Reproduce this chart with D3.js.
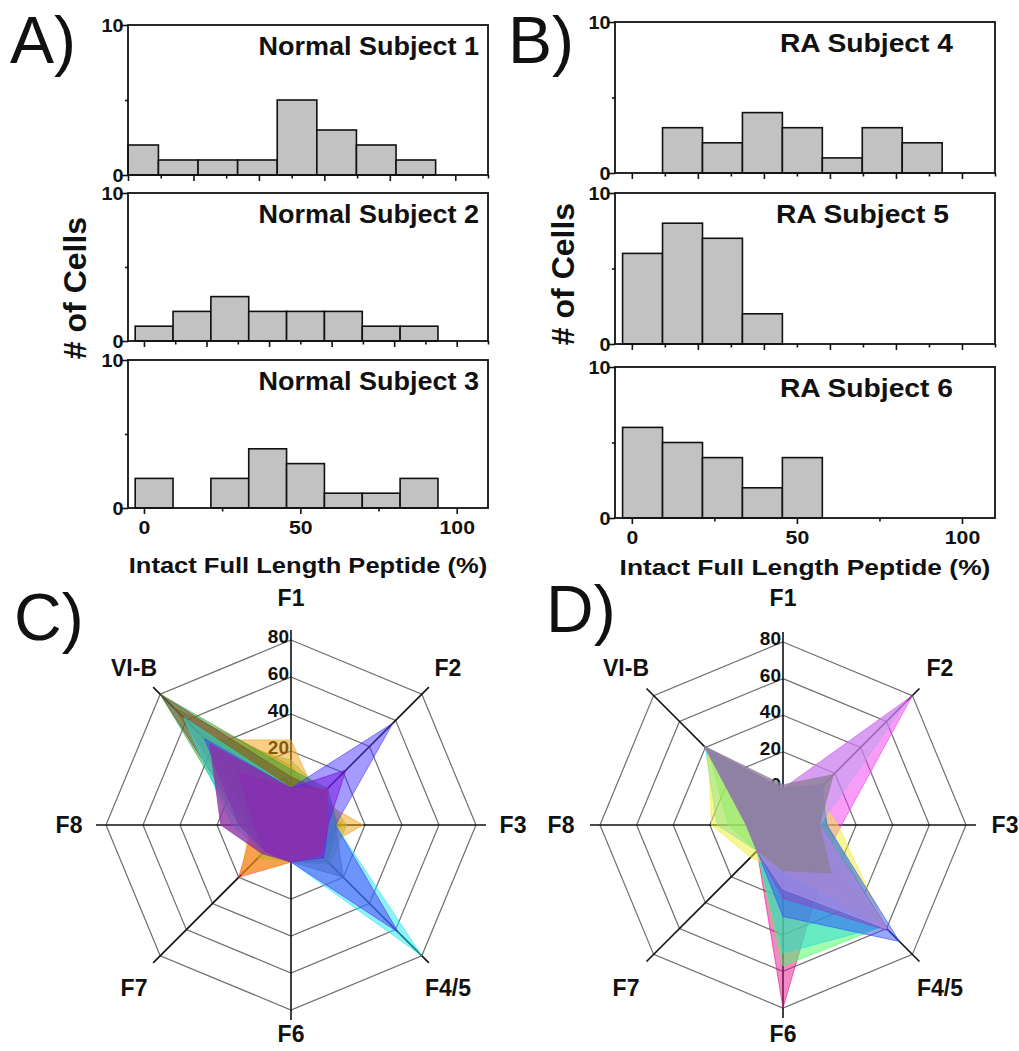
<!DOCTYPE html>
<html>
<head>
<meta charset="utf-8">
<script src="https://cdn.jsdelivr.net/npm/d3@7"></script>
<style>
  body { margin: 0; background: #fff; }
  text { font-family: "Liberation Sans", Arial, sans-serif; fill: #111; }
</style>
</head>
<body>
<div id="chart"></div>
<script>
// ---- histogram data ----
const binEdges = [-2.8, 9.3, 21.4, 33.5, 45.6, 57.7, 69.8, 81.9, 94.0];
const normal1 = [2, 1, 1, 1, 5, 3, 2, 1];
const normal2 = [1, 2, 3, 2, 2, 2, 1, 1];
const normal3 = [2, 0, 2, 4, 3, 1, 1, 2];
const ra4 = [0, 3, 2, 4, 3, 1, 3, 2];
const ra5 = [6, 8, 7, 2, 0, 0, 0, 0];
const ra6 = [6, 5, 4, 2, 4, 0, 0, 0];
const yTicks = [0, 5, 10];
const yLabels = [0, 10];
const upperTicks = [0, 10, 20, 30, 40, 50, 60, 70, 80, 90, 100, 110];
const bottomTicks = [0, 25, 50, 75, 100];
const bottomLabels = [0, 50, 100];

// ---- radar data (order of spokes below) ----
const spokes = ["F1", "F2", "F3", "F4/5", "F6", "F7", "F8", "VI-B"];
const ringTicks = [0, 20, 40, 60, 80];
const ringLabelsC = [0, 20, 40, 60, 80];
const ringLabelsD = [0, 20, 40, 60, 80];

const cRed    = [12, 0, 8, 0, 0, 20, 0, 70];
const cOrange = [26, 0, 19, 0, 0, 18, 2, 45];
const cOlive  = [15, 5, 10, 10, 0, 5, 0, 50];
const cGreen  = [10, 8, 5, 8, 0, 0, 8, 80];
const cBrown  = [6, 5, 4, 20, 0, 0, 5, 80];
const cCyan   = [0, 5, 4, 80, 0, 0, 12, 62];
const cBlue   = [0, 58, 4, 62, 0, 0, 8, 46];
const cViolet = [0, 22, 0, 5, 0, 0, 0, 20];
const cPurple = [0, 8, 0, 3, 0, 2, 18, 42];
const cColors = ["#ff4a20", "#f2a012", "#b5b52a", "#2faa3a", "#6e4a30", "#1ee8f0", "#4a36ff", "#7a10e0", "#8e2ea4"];

const dMagenta  = [0, 80, 12, 10, 0, 0, 0, 30];
const dPink     = [0, 5, 0, 12, 80, 0, 0, 30];
const dGreen    = [0, 8, 4, 58, 57, 0, 10, 38];
const dCyan     = [0, 10, 4, 58, 50, 0, 16, 40];
const dYellow   = [0, 5, 10, 60, 5, 5, 19, 38];
const dBlue     = [0, 10, 4, 70, 30, 0, 0, 36];
const dPurple   = [0, 12, 0, 62, 20, 0, 0, 40];
const dLavender = [0, 76, 0, 60, 15, 0, 0, 40];
const dGray     = [2, 19, 0, 17, 5, 0, 0, 41];
const dColors = ["#f03cf0", "#e0158a", "#40ff60", "#30d8d8", "#eeee30", "#3050ff", "#9040c8", "#b8a0ee", "#8c8096"];

const W = 1019, H = 1051;
const svg = d3.select("#chart").append("svg").attr("width", W).attr("height", H);

function label(g, txt, x, y, size, opt = {}) {
  return g.append("text")
    .attr("transform", `translate(${x},${y}) scale(${opt.sx || 1},1)`)
    .attr("text-anchor", opt.anchor || "middle")
    .attr("font-size", size)
    .attr("font-weight", opt.weight || "bold")
    .text(txt);
}

function histogram(p) {
  const x = d3.scaleLinear().domain(p.domain).range([p.x0, p.x1]);
  const y = d3.scaleLinear().domain([0, 10]).range([p.y1, p.y0]);
  const g = svg.append("g");

  const bins = p.counts
    .map((c, i) => ({ c, a: Math.max(binEdges[i], p.domain[0]), b: binEdges[i + 1] }))
    .filter(d => d.c > 0);

  g.selectAll("rect.bar").data(bins).join("rect")
    .attr("class", "bar")
    .attr("x", d => x(d.a))
    .attr("width", d => x(d.b) - x(d.a))
    .attr("y", d => y(d.c))
    .attr("height", d => y(0) - y(d.c))
    .attr("fill", "#c2c2c2")
    .attr("stroke", "#111")
    .attr("stroke-width", 1.6);

  g.append("rect")
    .attr("x", p.x0).attr("y", p.y0)
    .attr("width", p.x1 - p.x0).attr("height", p.y1 - p.y0)
    .attr("fill", "none").attr("stroke", "#111").attr("stroke-width", 1.8);

  // y axis
  const ya = g.append("g").attr("transform", `translate(${p.x0},0)`)
    .call(d3.axisLeft(y).tickValues(yTicks).tickSize(6).tickSizeOuter(0)
      .tickFormat(d => yLabels.includes(d) ? d : ""));
  ya.select(".domain").remove();
  ya.selectAll(".tick line").attr("stroke", "#111").attr("stroke-width", 1.6)
    .attr("x2", d => yLabels.includes(d) ? -6 : -3);
  ya.selectAll(".tick text")
    .attr("font-size", 18).attr("font-weight", "bold")
    .attr("font-family", '"Liberation Sans", Arial, sans-serif')
    .attr("x", -4).attr("dy", "0.36em")
    .attr("transform", "scale(1.1,1)");

  // x axis
  const tv = p.bottom ? bottomTicks : upperTicks.filter(t => t >= p.domain[0] && t <= p.domain[1]);
  const major = p.bottom ? bottomLabels : upperTicks.filter(t => t % 20 === 0);
  const xa = g.append("g").attr("transform", `translate(0,${p.y1})`)
    .call(d3.axisBottom(x).tickValues(tv).tickSize(6).tickSizeOuter(0)
      .tickFormat(d => p.bottom && bottomLabels.includes(d) ? d : ""));
  xa.select(".domain").remove();
  xa.selectAll(".tick line").attr("stroke", "#111").attr("stroke-width", 1.6)
    .attr("y2", d => major.includes(d) ? 6 : 3.5);
  xa.selectAll(".tick text")
    .attr("font-size", 18).attr("font-weight", "bold")
    .attr("font-family", '"Liberation Sans", Arial, sans-serif')
    .attr("y", 13)
    .attr("transform", "scale(1.18,1)");

  label(g, p.title, p.titleX, p.y0 + 30, 25, { anchor: "end", sx: p.titleSx });
  return g;
}

// ---- panels A and B ----
const A = { x0: 128, x1: 488 };
const B = { x0: 615, x1: 995 };
histogram({ ...A, y0: 25, y1: 175, domain: [0, 110], counts: normal1,
  title: "Normal Subject 1", titleX: 479, titleSx: 1.08 });
histogram({ ...A, y0: 193, y1: 341, domain: [-5.1, 110], counts: normal2,
  title: "Normal Subject 2", titleX: 479, titleSx: 1.08 });
histogram({ ...A, y0: 360, y1: 508, domain: [-5.1, 110], counts: normal3, bottom: true,
  title: "Normal Subject 3", titleX: 479, titleSx: 1.08 });

histogram({ ...B, y0: 22, y1: 173, domain: [-5.1, 110], counts: ra4,
  title: "RA Subject 4", titleX: 953, titleSx: 1.13 });
histogram({ ...B, y0: 193, y1: 344, domain: [-5.1, 110], counts: ra5,
  title: "RA Subject 5", titleX: 949, titleSx: 1.13 });
histogram({ ...B, y0: 367, y1: 518, domain: [-5.1, 110], counts: ra6, bottom: true,
  title: "RA Subject 6", titleX: 953, titleSx: 1.13 });

const tg = svg.append("g");
label(tg, "Intact Full Length Peptide (%)", 308, 573, 22, { sx: 1.16 });
label(tg, "Intact Full Length Peptide (%)", 805, 575, 22, { sx: 1.2 });

tg.append("text").attr("transform", "translate(86,288) rotate(-90)")
  .attr("text-anchor", "middle").attr("font-size", 32).attr("font-weight", "bold").text("# of Cells");
tg.append("text").attr("transform", "translate(574,274) rotate(-90)")
  .attr("text-anchor", "middle").attr("font-size", 32).attr("font-weight", "bold").text("# of Cells");

label(tg, "A)", 10, 63, 66, { anchor: "start", weight: "normal" });
label(tg, "B)", 508, 63, 66, { anchor: "start", weight: "normal" });
label(tg, "C)", 14, 640, 66, { anchor: "start", weight: "normal" });
label(tg, "D)", 546, 632, 66, { anchor: "start", weight: "normal" });

// ---- radar charts ----
function radar(cx, cy, R, series, colors, ringLabels) {
  const g = svg.append("g").attr("transform", `translate(${cx},${cy})`);
  const r = d3.scaleLinear().domain([-20, 80]).range([0, R]);
  const step = 2 * Math.PI / spokes.length;
  const ang = i => i * step;
  const line = d3.lineRadial()
    .angle((d, i) => ang(i))
    .radius(d => r(d))
    .curve(d3.curveLinearClosed);

  g.selectAll("path.ring").data(ringTicks).join("path")
    .attr("class", "ring")
    .attr("d", t => line(spokes.map(() => t)))
    .attr("fill", "none").attr("stroke", "#6e6e6e").attr("stroke-width", 1.2);

  g.selectAll("line.spoke").data(spokes).join("line")
    .attr("class", "spoke")
    .attr("x1", 0).attr("y1", 0)
    .attr("x2", (d, i) => Math.sin(ang(i)) * (R + 10))
    .attr("y2", (d, i) => -Math.cos(ang(i)) * (R + 10))
    .attr("stroke", "#111").attr("stroke-width", 1.6);

  g.selectAll("text.ringlab").data(ringLabels).join("text")
    .attr("class", "ringlab")
    .attr("x", -2).attr("y", t => -r(t) + 3)
    .attr("text-anchor", "end").attr("font-size", 19).attr("font-weight", "bold")
    .text(t => t);

  const last = series.length - 1;
  g.selectAll("path.series").data(series).join("path")
    .attr("class", "series")
    .attr("d", d => line(d))
    .attr("fill", (d, i) => colors[i])
    .attr("fill-opacity", (d, i) => i === last ? 0.78 : 0.5)
    .attr("stroke", (d, i) => colors[i]).attr("stroke-opacity", 0.6).attr("stroke-width", 1);

  // label distance: top a bit further out, bottom a bit closer
  const labR = i => i === 0 ? 227 : i === 4 ? 209 : 222;
  g.selectAll("text.spokelab").data(spokes).join("text")
    .attr("class", "spokelab")
    .attr("x", (d, i) => Math.sin(ang(i)) * labR(i))
    .attr("y", (d, i) => -Math.cos(ang(i)) * labR(i) + (i === 3 || i === 5 ? 6 : 0))
    .attr("dy", "0.36em")
    .attr("text-anchor", "middle").attr("font-size", 23).attr("font-weight", "bold")
    .text(d => d);
}

radar(291, 825, 185,
  [cRed, cOrange, cOlive, cGreen, cBrown, cCyan, cBlue, cViolet, cPurple], cColors, ringLabelsC);
radar(783, 825, 183,
  [dMagenta, dPink, dGreen, dCyan, dYellow, dBlue, dPurple, dLavender, dGray], dColors, ringLabelsD);
</script>
</body>
</html>
